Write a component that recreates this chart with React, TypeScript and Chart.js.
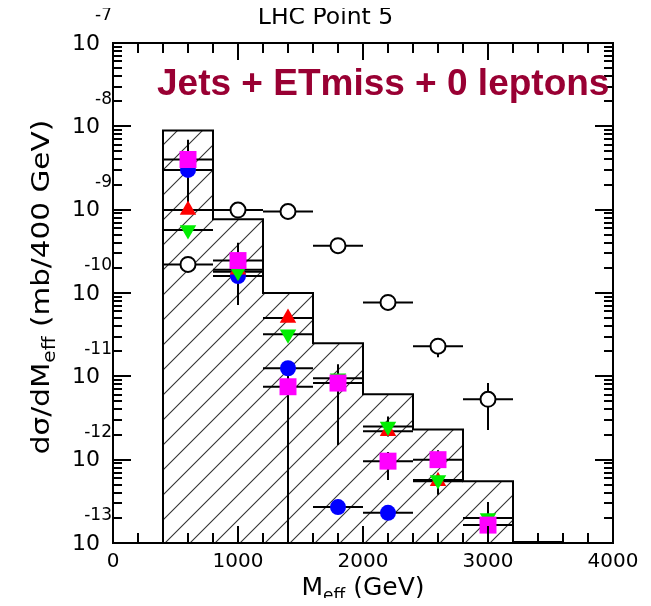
import React, { useEffect, useRef } from 'react';
import { Chart, registerables } from 'chart.js';

Chart.register(...registerables);

// Axis ranges
const X_MIN = 0;
const X_MAX = 4000;
const Y_MIN = 1e-13;
const Y_MAX = 1e-7;

// Tick labels
const xTickLabels = [0, 1000, 2000, 3000, 4000];
const yTickExponents = [-13, -12, -11, -10, -9, -8, -7];

// Hatched histogram: bin edges (GeV) and heights (mb/400 GeV)
const binEdges = [400, 800, 1200, 1600, 2000, 2400, 2800, 3200, 3600];
const binHeights = [8.9e-9, 7.7e-10, 1.0e-10, 2.5e-11, 6.1e-12, 2.3e-12, 5.5e-13, 1.03e-13];

// Half bin width used for the horizontal error bars
const binHalfWidth = 200;

// Open circles
const openX = [600, 1000, 1400, 1800, 2200, 2600, 3000];
const openY = [2.2e-10, 9.9e-10, 9.5e-10, 3.7e-10, 7.7e-11, 2.3e-11, 5.3e-12];
const openLo = [null, null, null, null, null, 1.7e-11, 2.27e-12];
const openHi = [null, null, null, null, null, null, 8.3e-12];

// Blue circles
const blueX = [600, 1000, 1400, 1800, 2200];
const blueY = [3.0e-9, 1.6e-10, 1.25e-11, 2.7e-13, 2.3e-13];
const blueLo = [1.2e-9, null, 5e-14, null, null];
const blueHi = [null, null, 1.5e-11, null, null];

// Red up-triangles
const redX = [600, 1000, 1400, 2200, 2600];
const redY = [9.9e-10, 1.9e-10, 5.0e-11, 2.2e-12, 5.5e-13];

// Green down-triangles
const greenX = [600, 1000, 1400, 1800, 2200, 2600, 3000];
const greenY = [5.7e-10, 1.8e-10, 3.2e-11, 9.5e-12, 2.5e-12, 5.7e-13, 2.0e-13];
const greenLo = [null, null, null, null, 1.9e-12, 3.8e-13, null];
const greenHi = [null, null, null, null, 3.3e-12, null, null];

// Magenta squares
const magentaX = [600, 1000, 1400, 1800, 2200, 2600, 3000];
const magentaY = [4.0e-9, 2.45e-10, 7.5e-12, 8.3e-12, 9.6e-13, 1.0e-12, 1.64e-13];
const magentaLo = [null, 7.2e-11, null, 1.5e-12, 5.7e-13, null, 8e-14];
const magentaHi = [6.9e-9, 4.0e-10, null, 1.4e-11, 1.24e-12, 1.3e-12, 3.1e-13];

const FONT = '"DejaVu Sans", sans-serif';

type Series = { x: number[]; y: number[]; lo?: (number | null)[]; hi?: (number | null)[] };

const errorSeries: Series[] = [
  { x: openX, y: openY, lo: openLo, hi: openHi },
  { x: blueX, y: blueY, lo: blueLo, hi: blueHi },
  { x: redX, y: redY },
  { x: greenX, y: greenY, lo: greenLo, hi: greenHi },
  { x: magentaX, y: magentaY, lo: magentaLo, hi: magentaHi },
];

const toPoints = (xs: number[], ys: number[]) => xs.map((x, i) => ({ x, y: ys[i] }));

function makeHatch(ctx: CanvasRenderingContext2D) {
  const size = 25;
  const tile = document.createElement('canvas');
  tile.width = size;
  tile.height = size;
  const t = tile.getContext('2d')!;
  t.strokeStyle = '#333';
  t.lineWidth = 1.1;
  t.beginPath();
  t.moveTo(-2, size + 2);
  t.lineTo(size + 2, -2);
  t.moveTo(-2, 2);
  t.lineTo(2, -2);
  t.moveTo(size - 2, size + 2);
  t.lineTo(size + 2, size - 2);
  t.stroke();
  const pattern = ctx.createPattern(tile, 'repeat')!;
  pattern.setTransform(new DOMMatrix().translate(8, 0));
  return pattern;
}

function drawErrorBars(chart: any) {
  const { ctx, chartArea: a, scales } = chart;
  const xs = scales.x;
  const ys = scales.y;
  ctx.save();
  ctx.beginPath();
  ctx.rect(a.left, a.top, a.right - a.left, a.bottom - a.top);
  ctx.clip();
  ctx.strokeStyle = '#000';
  ctx.lineWidth = 2;
  for (const s of errorSeries) {
    s.x.forEach((xv, i) => {
      const px = xs.getPixelForValue(xv);
      const py = ys.getPixelForValue(s.y[i]);
      ctx.beginPath();
      ctx.moveTo(xs.getPixelForValue(xv - binHalfWidth), py);
      ctx.lineTo(xs.getPixelForValue(xv + binHalfWidth), py);
      const hi = s.hi ? s.hi[i] : null;
      const lo = s.lo ? s.lo[i] : null;
      if (hi != null) {
        ctx.moveTo(px, py);
        ctx.lineTo(px, ys.getPixelForValue(hi));
      }
      if (lo != null) {
        ctx.moveTo(px, py);
        ctx.lineTo(px, ys.getPixelForValue(lo));
      }
      ctx.stroke();
    });
  }
  ctx.restore();
}

function drawFrame(chart: any) {
  const { ctx, chartArea: a, scales } = chart;
  const xs = scales.x;
  const ys = scales.y;
  ctx.save();
  ctx.strokeStyle = '#000';
  ctx.lineWidth = 2;
  ctx.strokeRect(a.left, a.top, a.right - a.left, a.bottom - a.top);
  ctx.beginPath();
  // ticks every 200 GeV, long ones every 1000 GeV, on top and bottom
  for (let v = X_MIN + 200; v < X_MAX; v += 200) {
    const len = v % 1000 === 0 ? 17 : 10;
    const px = Math.round(xs.getPixelForValue(v));
    ctx.moveTo(px, a.bottom);
    ctx.lineTo(px, a.bottom - len);
    ctx.moveTo(px, a.top);
    ctx.lineTo(px, a.top + len);
  }
  // decade and 2..9 ticks on left and right
  for (let e = -13; e < -7; e++) {
    for (let m = 1; m <= 9; m++) {
      const v = m * Math.pow(10, e);
      if (v <= Y_MIN) continue;
      const len = m === 1 ? 18 : 9;
      const py = Math.round(ys.getPixelForValue(v));
      ctx.moveTo(a.left, py);
      ctx.lineTo(a.left + len, py);
      ctx.moveTo(a.right, py);
      ctx.lineTo(a.right - len, py);
    }
  }
  ctx.stroke();
  ctx.restore();
}

function drawTexts(chart: any) {
  const { ctx, chartArea: a, scales, width } = chart;
  const xs = scales.x;
  const ys = scales.y;
  ctx.save();
  ctx.fillStyle = '#000';

  // y tick labels: "10" with exponent above
  ctx.textAlign = 'right';
  ctx.textBaseline = 'middle';
  for (const e of yTickExponents) {
    const py = ys.getPixelForValue(Math.pow(10, e));
    ctx.font = `22px ${FONT}`;
    ctx.fillText('10', a.left - 13, py + 1);
    ctx.font = `17px ${FONT}`;
    ctx.fillText('-' + Math.abs(e), a.left - 1, py - 27);
  }

  // x tick labels
  ctx.textAlign = 'center';
  ctx.font = `20px ${FONT}`;
  for (const v of xTickLabels) {
    ctx.fillText(String(v), xs.getPixelForValue(v), a.bottom + 19);
  }

  // axis titles with subscripts
  const drawSub = (parts: [string, boolean][], big: number, small: number) => {
    let total = 0;
    for (const [txt, sub] of parts) {
      ctx.font = `${sub ? small : big}px ${FONT}`;
      total += ctx.measureText(txt).width;
    }
    let cx = -total / 2;
    ctx.textAlign = 'left';
    ctx.textBaseline = 'alphabetic';
    for (const [txt, sub] of parts) {
      ctx.font = `${sub ? small : big}px ${FONT}`;
      ctx.fillText(txt, cx, sub ? 6 : 0);
      cx += ctx.measureText(txt).width;
    }
  };

  ctx.save();
  ctx.translate((a.left + a.right) / 2, a.bottom + 52);
  drawSub([['M', false], ['eff', true], [' (GeV)', false]], 25, 17);
  ctx.restore();

  ctx.save();
  ctx.translate(a.left - 64, (a.top + a.bottom) / 2 - 6);
  ctx.rotate(-Math.PI / 2);
  ctx.scale(1.18, 1);
  drawSub([['d\u03c3/dM', false], ['eff', true], [' (mb/400 GeV)', false]], 25, 17);
  ctx.restore();

  // plot title
  ctx.textAlign = 'center';
  ctx.textBaseline = 'alphabetic';
  ctx.font = `23.5px ${FONT}`;
  ctx.fillText('LHC Point 5', width / 2, 24);

  // channel annotation
  ctx.textAlign = 'left';
  ctx.fillStyle = '#990033';
  ctx.font = `bold 37px "Liberation Sans", Arial, sans-serif`;
  ctx.fillText('Jets + ETmiss + 0 leptons', a.left + 44, a.top + 52);

  ctx.restore();
}

const decorPlugin = {
  id: 'decor',
  afterDatasetDraw(chart: any, args: any) {
    if (args.index === 0) drawErrorBars(chart);
  },
  afterDraw(chart: any) {
    drawFrame(chart);
    drawTexts(chart);
  },
};

export default function App() {
  const ref = useRef<HTMLCanvasElement>(null);

  useEffect(() => {
    const canvas = ref.current!;
    const ctx = canvas.getContext('2d')!;
    const hatch = makeHatch(ctx);

    // outline of the stepped histogram, closed down to the axis floor
    const histPoints: { x: number; y: number }[] = [{ x: binEdges[0], y: Y_MIN }];
    binHeights.forEach((h, i) => {
      histPoints.push({ x: binEdges[i], y: h });
      histPoints.push({ x: binEdges[i + 1], y: h });
    });
    histPoints.push({ x: binEdges[binEdges.length - 1], y: Y_MIN });

    const chart = new Chart(canvas, {
      type: 'scatter',
      data: {
        datasets: [
          {
            type: 'line',
            data: histPoints,
            borderColor: '#000',
            borderWidth: 2,
            backgroundColor: hatch,
            fill: 'start',
            pointRadius: 0,
            tension: 0,
            order: 10,
          } as any,
          {
            data: toPoints(openX, openY),
            pointStyle: 'circle',
            pointRadius: 7.5,
            pointBorderWidth: 2,
            pointBorderColor: '#000',
            pointBackgroundColor: '#fff',
            order: 5,
          },
          {
            data: toPoints(blueX, blueY),
            pointStyle: 'circle',
            pointRadius: 8,
            pointBorderWidth: 0,
            pointBackgroundColor: '#0000ff',
            order: 4,
          },
          {
            data: toPoints(redX, redY),
            pointStyle: 'triangle',
            pointRadius: 9.5,
            pointBorderWidth: 0,
            pointBackgroundColor: '#ff0000',
            order: 3,
          },
          {
            data: toPoints(greenX, greenY),
            pointStyle: 'triangle',
            rotation: 180,
            pointRadius: 9.5,
            pointBorderWidth: 0,
            pointBackgroundColor: '#00ee00',
            order: 2,
          } as any,
          {
            data: toPoints(magentaX, magentaY),
            pointStyle: 'rect',
            pointRadius: 12,
            pointBorderWidth: 0,
            pointBackgroundColor: '#ff00ff',
            order: 1,
          },
        ],
      },
      options: {
        animation: false,
        responsive: false,
        devicePixelRatio: 1,
        events: [],
        layout: { padding: { top: 43, right: 38, left: 0, bottom: 0 } },
        plugins: {
          legend: { display: false },
          tooltip: { enabled: false },
          title: { display: false },
        },
        scales: {
          x: {
            type: 'linear',
            min: X_MIN,
            max: X_MAX,
            ticks: { display: false },
            grid: { display: false },
            border: { display: false },
            afterFit: (s: any) => {
              s.height = 63;
            },
          },
          y: {
            type: 'logarithmic',
            min: Y_MIN,
            max: Y_MAX,
            ticks: { display: false },
            grid: { display: false },
            border: { display: false },
            afterFit: (s: any) => {
              s.width = 113;
            },
          },
        },
      },
      plugins: [decorPlugin],
    });

    return () => chart.destroy();
  }, []);

  // the canvas covers the full page, cancelling the body margin
  return (
    <canvas
      ref={ref}
      width={651}
      height={606}
      style={{ display: 'block', width: 651, height: 606, margin: -8 }}
    />
  );
}
